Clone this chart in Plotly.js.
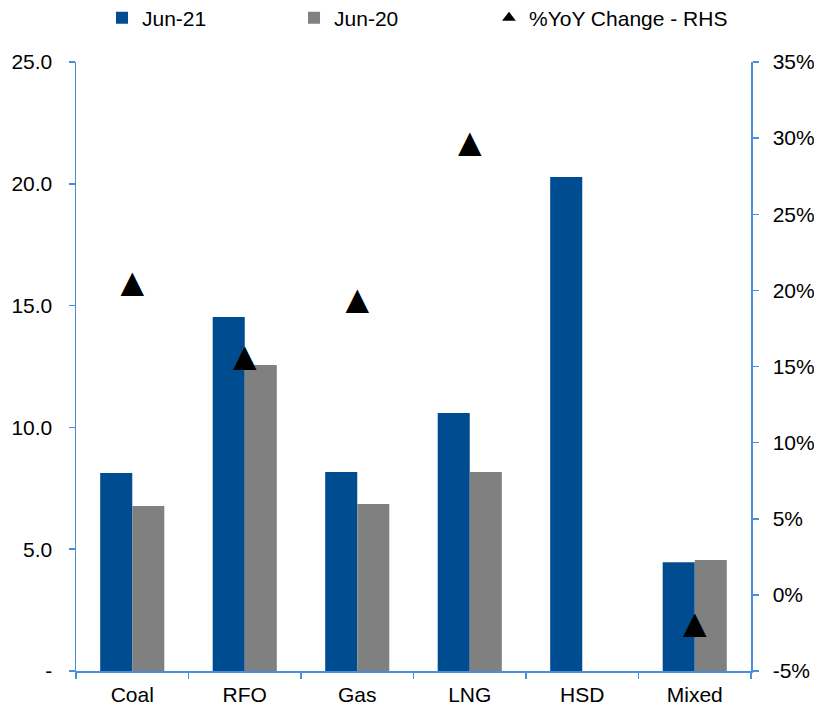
<!DOCTYPE html>
<html>
<head>
<meta charset="utf-8">
<script src="https://cdn.plot.ly/plotly-3.0.1.min.js"></script>
<style>html,body{margin:0;padding:0;background:#fff;}#chart{width:814px;height:706px;}</style>
</head>
<body>
<div id="chart"></div>
<script>
const categories = ['Coal', 'RFO', 'Gas', 'LNG', 'HSD', 'Mixed'];
const jun21 = [8.13, 14.53, 8.17, 10.59, 20.28, 4.46];
const jun20 = [6.77, 12.56, 6.86, 8.17, null, 4.56];
const yoyPct = [20.3, 15.4, 19.2, 29.5, null, -2.1];
const leftTickVals = [0, 5, 10, 15, 20, 25];
const leftTickText = ['-', '5.0', '10.0', '15.0', '20.0', '25.0'];
const rightTickVals = [-5, 0, 5, 10, 15, 20, 25, 30, 35];
const rightTickText = ['-5%', '0%', '5%', '10%', '15%', '20%', '25%', '30%', '35%'];

const axisColor = '#4a90d9';
const font = {family: '"Liberation Sans", Arial, sans-serif', size: 21, color: '#000'};

const traces = [
  {type: 'bar', name: 'Jun-21', x: categories, y: jun21, marker: {color: '#004c91'}, legend: 'legend'},
  {type: 'bar', name: 'Jun-20', x: categories, y: jun20, marker: {color: '#808080'}, legend: 'legend2'},
  {type: 'scatter', mode: 'text', name: '%YoY Change - RHS', x: categories, y: yoyPct, yaxis: 'y2',
   text: yoyPct.map(v => v === null ? '' : '\u25B2'), textposition: 'middle center',
   textfont: {family: '"Liberation Sans", Arial, sans-serif', size: 40, color: '#000'},
   cliponaxis: false, showlegend: false},
  {type: 'scatter', mode: 'markers', name: '%YoY Change - RHS', x: [null], y: [null], yaxis: 'y2',
   marker: {symbol: 'triangle-up', size: 12, color: '#000'}, legend: 'legend3'}
];

function leg(x) {
  return {orientation: 'h', x: x, xanchor: 'left', y: 1.0722, yanchor: 'middle',
          font: font, itemsizing: 'constant', bgcolor: 'rgba(0,0,0,0)', borderwidth: 0};
}

const layout = {
  width: 814, height: 706,
  margin: {l: 76, r: 63, t: 62, b: 35, pad: 0, autoexpand: false},
  paper_bgcolor: '#fff', plot_bgcolor: '#fff',
  font: font,
  barmode: 'group', bargap: 0.43, bargroupgap: 0,
  showlegend: true,
  legend: leg(0.0385),
  legend2: leg(0.3230),
  legend3: leg(0.6118),
  xaxis: {type: 'category', showline: true, linecolor: axisColor, linewidth: 1.5,
          ticks: 'outside', tickson: 'boundaries', ticklen: 6, tickcolor: axisColor, tickwidth: 1.5,
          showgrid: false, zeroline: false, tickfont: font, ticklabelstandoff: 4, fixedrange: true},
  yaxis: {range: [0, 25], tickmode: 'array', tickvals: leftTickVals, ticktext: leftTickText,
          showline: true, linecolor: axisColor, linewidth: 1.5,
          ticks: 'outside', ticklen: 6, tickcolor: axisColor, tickwidth: 1.5,
          showgrid: false, zeroline: false, tickfont: font, ticklabelstandoff: 12, fixedrange: true},
  yaxis2: {range: [-5, 35], overlaying: 'y', side: 'right', tickmode: 'array',
           tickvals: rightTickVals, ticktext: rightTickText,
           showline: true, linecolor: axisColor, linewidth: 1.5,
           ticks: 'outside', ticklen: 6, tickcolor: axisColor, tickwidth: 1.5,
           showgrid: false, zeroline: false, tickfont: font, ticklabelstandoff: 10, fixedrange: true}
};

Plotly.newPlot('chart', traces, layout, {displayModeBar: false, staticPlot: true});
</script>
</body>
</html>
